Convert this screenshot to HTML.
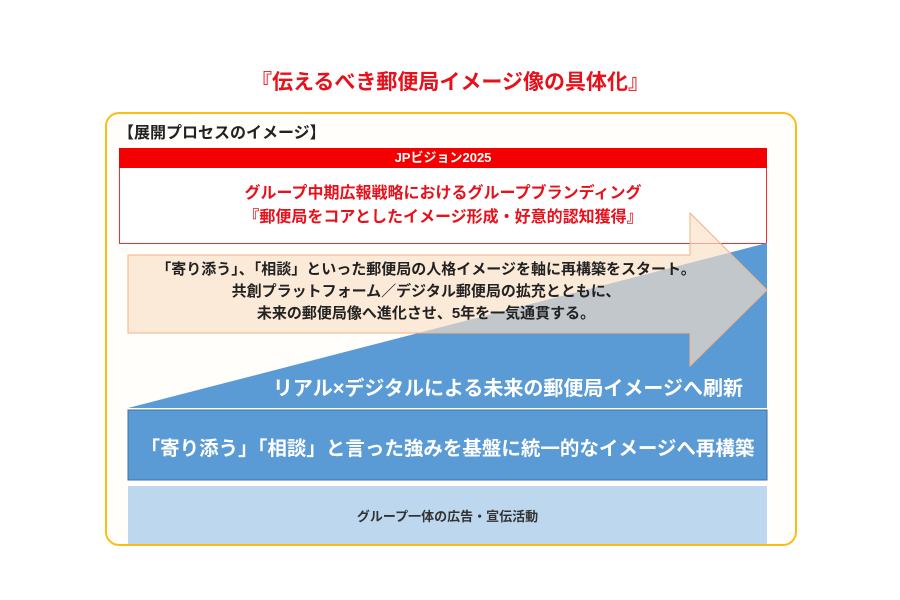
<!DOCTYPE html>
<html><head><meta charset="utf-8"><style>
body{margin:0;width:900px;height:600px;background:#fff;position:relative;overflow:hidden;font-family:"Liberation Sans","Noto Sans CJK JP",sans-serif;font-weight:bold}
.a{position:absolute;white-space:nowrap}
</style></head><body>
<div class="a" style="left:0;width:900px;top:66px;text-align:center;color:#e8101a;font-size:21px">『伝えるべき郵便局イメージ像の具体化』</div>
<div class="a" style="left:105px;top:112px;width:688px;height:430px;border:2px solid #fbbd14;border-radius:14px;background:#fffefa"></div>
<div class="a" style="left:118px;top:119px;font-size:16px;color:#222">【展開プロセスのイメージ】</div>
<div class="a" style="left:119px;top:148px;width:648px;height:20px;background:#f40000;color:#fff;font-size:13px;text-align:center;line-height:20px">JPビジョン2025</div>
<div class="a" style="left:119px;top:168px;width:646px;height:75px;border:1px solid #f03030;border-top:none;background:#fff"></div>
<svg class="a" style="left:0;top:0" width="900" height="600">
<polygon points="128,408 767,243 767,408" fill="#5b9bd5"/>
<rect x="128" y="410" width="639" height="70" fill="#5b9bd5" stroke="#41719c" stroke-width="1"/>
<rect x="128" y="486" width="639" height="58" fill="#bdd7ee"/>
<polygon points="128,255 690,255 690,213 767,290 690,366 690,333 128,333" fill="rgba(251,222,200,0.65)" stroke="#f4b183" stroke-width="1"/>
</svg>
<div class="a" style="left:119px;width:648px;top:182px;text-align:center;color:#e8101a;font-size:16px;line-height:24px">グループ中期広報戦略におけるグループブランディング<br>『郵便局をコアとしたイメージ形成・好意的認知獲得』</div>
<div class="a" style="left:126px;width:600px;top:259px;text-align:center;color:#222;font-size:15px;line-height:22px">「寄り添う」、「相談」といった郵便局の人格イメージを軸に再構築をスタート。<br>共創プラットフォーム／デジタル郵便局の拡充とともに、<br>未来の郵便局像へ進化させ、5年を一気通貫する。</div>
<div class="a" style="right:157px;top:372px;color:#fff;font-size:20px">リアル×デジタルによる未来の郵便局イメージへ刷新</div>
<div class="a" style="left:128px;width:639px;top:432px;text-align:center;color:#fff;font-size:19.5px">「寄り添う」「相談」と言った強みを基盤に統一的なイメージへ再構築</div>
<div class="a" style="left:128px;width:639px;top:506px;text-align:center;color:#333;font-size:13px">グループ一体の広告・宣伝活動</div>
</body></html>
